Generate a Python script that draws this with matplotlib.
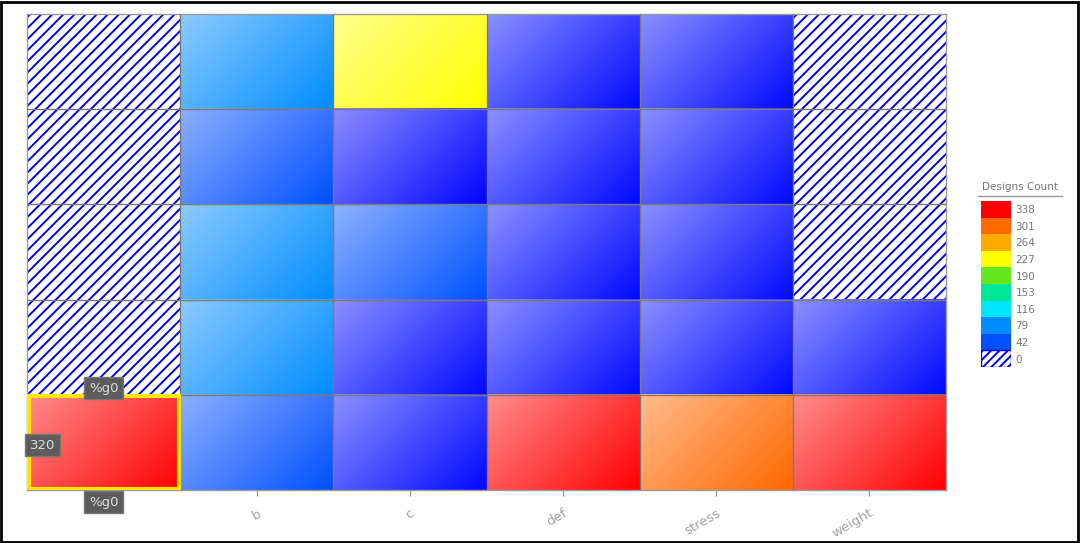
import numpy as np
import matplotlib
matplotlib.use('Agg')
import matplotlib.pyplot as plt
from matplotlib.patches import Rectangle
from matplotlib.colors import LinearSegmentedColormap

plt.rcParams['hatch.linewidth'] = 1.4

# columns of the matrix, values listed top row -> bottom row
columns = ['%g0', 'b', 'c', 'def', 'stress', 'weight']
col_g0 = [0, 0, 0, 0, 320]
col_b = [61, 24, 61, 61, 24]
col_c = [209, 2, 26, 3, 3]
col_def = [3, 3, 3, 3, 338]
col_stress = [3, 3, 3, 3, 283]
col_weight = [0, 0, 0, 3, 330]

legend_ticks = [338, 301, 264, 227, 190, 153, 116, 79, 42, 0]
legend_colors = ['#ff0000', '#ff6a00', '#ffaa00', '#ffff00', '#66e61e',
                 '#00e696', '#00e6ff', '#008cff', '#0050ff']

counts = np.array([col_g0, col_b, col_c, col_def, col_stress, col_weight]).T

# colour scale: each legend colour centred on its bin, pure blue at the bottom
stops = [0] + [t - 18 for t in legend_ticks[8::-1]] + [338]
stop_cols = ['#0000ff'] + legend_colors[::-1] + ['#ff0000']
cmap = LinearSegmentedColormap.from_list('designs',
                                         list(zip(np.array(stops) / 338, stop_cols)))

fig = plt.figure(figsize=(10.8, 5.43), dpi=100)
ax = fig.add_axes([27 / 1080, 1 - 490 / 543, 919 / 1080, 476 / 543])

# diagonal shading in pixel space (cells are ~153 x 95 px)
gy, gx = np.mgrid[0:1:60j, 0:1:100j]
t = (gx * 153 + gy * 95) / (153 + 95)
light = 0.55 * (1 - t)

nrows, ncols = counts.shape
for i in range(nrows):
    for j in range(ncols):
        v = counts[i, j]
        if v == 0:
            ax.add_patch(Rectangle((j, i), 1, 1, facecolor='white', edgecolor='#0000ee',
                                   hatch='///', linewidth=0, zorder=1))
            continue
        base = np.array(cmap(v / 338)[:3])
        img = base[None, None, :] * (1 - light[..., None]) + light[..., None]
        ax.imshow(img, extent=(j, j + 1, i + 1, i), aspect='auto',
                  interpolation='bilinear', zorder=1)

ax.set_xlim(0, ncols)
ax.set_ylim(nrows, 0)
for k in range(1, ncols):
    ax.axvline(k, color='#7a7a7a', lw=1, zorder=3)
for k in range(1, nrows):
    ax.axhline(k, color='#7a7a7a', lw=1, zorder=3)
for s in ax.spines.values():
    s.set_color('#9a9a9a')
    s.set_linewidth(1)

# highlighted cell
ax.add_patch(Rectangle((0.01, 4.01), 0.98, 0.98, fill=False, edgecolor='#ffe600',
                       linewidth=3, zorder=4))

ax.set_yticks([])
ax.set_xticks(np.arange(ncols) + 0.5)
ax.set_xticklabels([''] + columns[1:], rotation=30, ha='right', rotation_mode='anchor',
                   color='#a0a0a0', fontsize=9.5)
ax.tick_params(axis='x', length=4, color='#909090', pad=8)

# hover tooltips
tip = dict(boxstyle='square,pad=0.35', facecolor='#5c5c5c', edgecolor='#777777')
ax.text(0.5, 3.93, '%g0', ha='center', va='center', color='#dcdcdc', fontsize=9.5,
        bbox=tip, zorder=6)
ax.text(0.5, 5.13, '%g0', ha='center', va='center', color='#dcdcdc', fontsize=9.5,
        bbox=tip, zorder=6, clip_on=False)
ax.text(0.1, 4.53, '320', ha='center', va='center', color='#dcdcdc', fontsize=9.5,
        bbox=tip, zorder=6)

# legend
lax = fig.add_axes([981 / 1080, 1 - 367 / 543, 30 / 1080, 166 / 543])
lax.set_xlim(0, 1)
lax.set_ylim(0, len(legend_ticks))
lax.axis('off')
for k, tk in enumerate(legend_ticks):
    y = len(legend_ticks) - 1 - k
    if tk == 0:
        lax.add_patch(Rectangle((0, y), 1, 1, facecolor='white', edgecolor='#0000ff',
                                hatch='////', linewidth=1))
    else:
        lax.add_patch(Rectangle((0, y), 1, 1, facecolor=legend_colors[k], linewidth=0))
    lax.text(1.15, y + 0.45, str(tk), va='center', ha='left', fontsize=7.5, color='#777777')
fig.text(1020 / 1080, 1 - 187 / 543, 'Designs Count', ha='center', va='center',
         fontsize=7.5, color='#777777')
fig.add_artist(plt.Line2D([978 / 1080, 1062 / 1080], [1 - 196 / 543, 1 - 196 / 543],
                          color='#999999', lw=1, transform=fig.transFigure))

fig.patches.append(Rectangle((0.001, 0.002), 0.997, 0.995, fill=False, edgecolor='black',
                             linewidth=2, transform=fig.transFigure))

fig.savefig('out.png', dpi=100)
